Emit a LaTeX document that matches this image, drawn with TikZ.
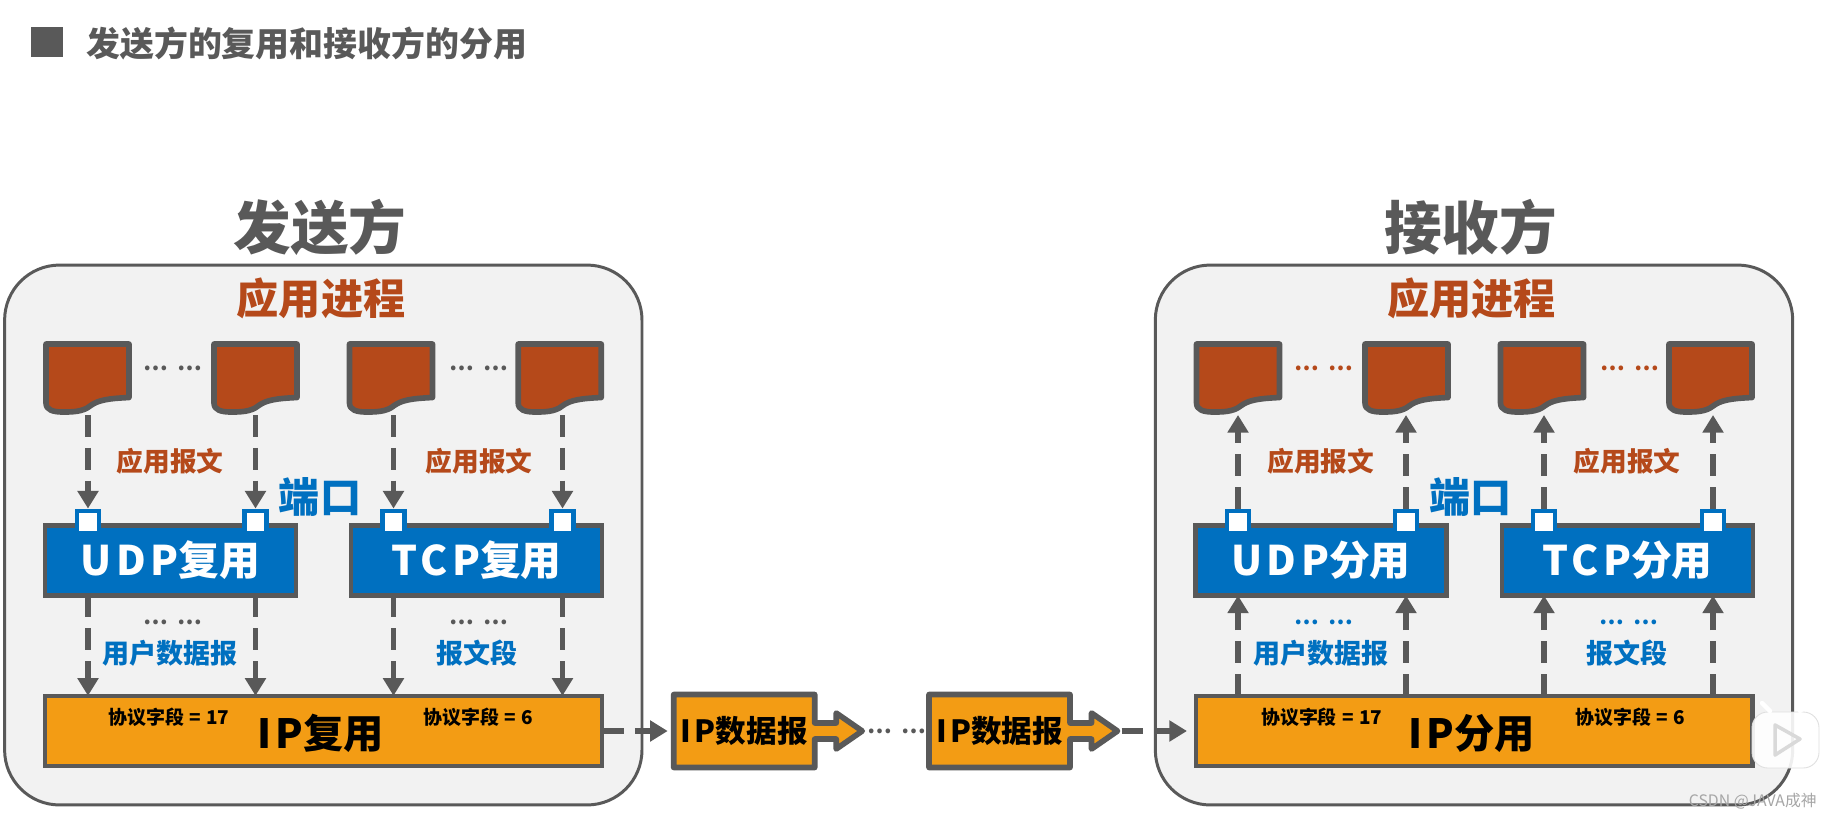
\documentclass[tikz,border=0pt]{standalone}
\usepackage{fontspec}
\setmainfont{Noto Sans CJK SC}
\newfontfamily\spc{Noto Sans CJK SC}[LetterSpace=11]
\usetikzlibrary{calc,arrows.meta}

\definecolor{linegray}{HTML}{595959}
\definecolor{panelbg}{HTML}{F2F2F2}
\definecolor{appred}{HTML}{B5491A}
\definecolor{netblue}{HTML}{0070C0}
\definecolor{ipgold}{HTML}{F39C14}

\tikzset{
  panel/.style={draw=linegray,line width=1.7pt,fill=panelbg,rounded corners=1.1cm,
    minimum width=12.75cm,minimum height=10.8cm,inner sep=0pt,outer sep=0pt},
  docbox/.style={minimum width=1.78cm,minimum height=1.48cm,inner sep=0pt,outer sep=0pt},
  docline/.style={draw=linegray,line width=3.2pt,fill=appred,line join=round},
  boxnet/.style={draw=linegray,line width=2.5pt,fill=netblue,text=white,
    minimum width=5.02cm,minimum height=1.4cm,inner sep=0pt,outer sep=0pt,
    font=\bfseries\fontsize{23.2}{23}\selectfont},
  boxip/.style={draw=linegray,line width=2.5pt,fill=ipgold,
    minimum width=11.14cm,minimum height=1.41cm,inner sep=0pt,outer sep=0pt},
  port/.style={draw=netblue,line width=2.8pt,fill=white,
    minimum width=0.44cm,minimum height=0.44cm,inner sep=0pt,outer sep=1.4pt},
  flow/.style={draw=linegray,line width=3.2pt,dash pattern=on 12.5pt off 6.2pt,
    -{Triangle[length=10pt,width=11.5pt,fill=linegray]}},
  heading/.style={text=linegray,font=\bfseries\fontsize{32.8}{33}\selectfont},
  procname/.style={text=appred,font=\bfseries\fontsize{24}{24}\selectfont},
  portname/.style={text=netblue,font=\bfseries\fontsize{23.4}{23}\selectfont},
  appmsg/.style={text=appred,font=\bfseries\fontsize{15.2}{15}\selectfont},
  netmsg/.style={text=netblue,font=\bfseries\fontsize{15.4}{15}\selectfont},
  protofield/.style={font=\bfseries\fontsize{10.8}{11}\selectfont},
  ipname/.style={font=\bfseries\fontsize{22.9}{23}\selectfont},
  pktname/.style={font=\bfseries\fontsize{17.4}{18}\selectfont},
  dotsmark/.style={font=\bfseries\fontsize{12.5}{12}\selectfont},
}

% name, position
\newcommand{\docshape}[2]{
  \node[docbox] (#1) at (#2) {};
  \draw[docline,shift={(#1.north west)}] (3,3) -- (86,3) -- (86,56.5)
    .. controls (65,57.5) and (55,59) .. (47,65)
    .. controls (40,71) and (28,71) .. (20,71)
    .. controls (10,71) and (3,69) .. (3,62) -- cycle;
}
% name, centre of the box
\newcommand{\pktshape}[2]{
  \draw[docline,fill=ipgold,shift={(#2)}] (-70.5,-36.5) -- (70.5,-36.5) -- (70.5,-8)
    -- (92,-8) -- (92,-18) -- (118,0) -- (92,18) -- (92,8) -- (70.5,8)
    -- (70.5,36.5) -- (-70.5,36.5) -- cycle;
  \node[minimum width=2.92cm,minimum height=1.56cm,inner sep=0pt,outer sep=0pt,pktname] (#1) at (#2) {{\spc IP}数据报};
  \coordinate (#1tip) at ($(#2)+(122,0)$);
}

\begin{document}
\begin{tikzpicture}[x=0.02cm,y=-0.02cm]
  \useasboundingbox (0,0) rectangle (1831,819);

  % title
  \fill[linegray] (30.6,27) rectangle (63,57);
  \node[text=linegray,font=\bfseries\fontsize{19.3}{19}\selectfont,anchor=west,inner sep=0pt] (title) at (86,43.5) {发送方的复用和接收方的分用};

  % panels
  \node[panel] (sendpanel) at (323.3,535) {};
  \node[panel] (recvpanel) at (1474,535) {};
  \node[heading] (sendname) at (320,227) {发送方};
  \node[heading] (recvname) at (1470.6,227) {接收方};
  \node[procname] (sendproc) at (321,298) {应用进程};
  \node[procname] (recvproc) at (1471.5,298) {应用进程};

  % sender
  \docshape{sa}{87.5,378}
  \docshape{sb}{255.5,378}
  \docshape{sc}{391,378}
  \docshape{sd}{559.7,378}
  \node[dotsmark,text=linegray] (sdotsa) at (173,368) {⋯\hspace{5pt}⋯};
  \node[dotsmark,text=linegray] (sdotsb) at (479,368) {⋯\hspace{5pt}⋯};

  \node[boxnet] (sudp) at (170.5,560.5) {{\spc UDP}复用};
  \node[boxnet] (stcp) at (476.5,560.5) {{\spc TCP}复用};
  \node[boxip] (sip) at (323.5,731) {};
  \node[port] (spa) at (88,522) {};
  \node[port] (spb) at (255.5,522) {};
  \node[port] (spc) at (393.5,522) {};
  \node[port] (spd) at (562.5,522) {};

  \draw[flow] (spa.north |- sa.south) -- (spa.north);
  \draw[flow] (spb.north |- sb.south) -- (spb.north);
  \draw[flow] (spc.north |- sc.south) -- (spc.north);
  \draw[flow] (spd.north |- sd.south) -- (spd.north);
  \draw[flow] (spa.north |- sudp.south) -- (spa.north |- sip.north);
  \draw[flow] (spb.north |- sudp.south) -- (spb.north |- sip.north);
  \draw[flow] (spc.north |- stcp.south) -- (spc.north |- sip.north);
  \draw[flow] (spd.north |- stcp.south) -- (spd.north |- sip.north);

  \node[appmsg] (smsga) at (170,461) {应用报文};
  \node[appmsg] (smsgb) at (479,461) {应用报文};
  \node[portname] (sportname) at (320,497) {端口};
  \node[dotsmark,text=linegray] (sdotsc) at (173,622) {⋯\hspace{5pt}⋯};
  \node[dotsmark,text=linegray] (sdotsd) at (479,622) {⋯\hspace{5pt}⋯};
  \node[netmsg] (sudpmsg) at (170,653) {用户数据报};
  \node[netmsg] (stcpmsg) at (477,653) {报文段};
  \node[protofield] (sfielda) at (169,717) {协议字段\hspace{3pt}=\hspace{3pt}17};
  \node[protofield] (sfieldb) at (478,717) {协议字段\hspace{3pt}=\hspace{3pt}6};
  \node[ipname] (sipname) at (320.5,733) {{\spc IP}复用};

  % receiver
  \docshape{ra}{1238,378}
  \docshape{rb}{1406.5,378}
  \docshape{rc}{1542,378}
  \docshape{rd}{1710.5,378}
  \node[dotsmark,text=appred] (rdotsa) at (1324,368) {⋯\hspace{5pt}⋯};
  \node[dotsmark,text=appred] (rdotsb) at (1629.7,368) {⋯\hspace{5pt}⋯};

  \node[boxnet] (rudp) at (1320.9,560.5) {{\spc UDP}分用};
  \node[boxnet] (rtcp) at (1627.5,560.5) {{\spc TCP}分用};
  \node[boxip] (rip) at (1474.2,731) {};
  \node[port] (rpa) at (1238,522) {};
  \node[port] (rpb) at (1406,522) {};
  \node[port] (rpc) at (1544,522) {};
  \node[port] (rpd) at (1713,522) {};

  \draw[flow] (rpa.north) -- (rpa.north |- ra.south);
  \draw[flow] (rpb.north) -- (rpb.north |- rb.south);
  \draw[flow] (rpc.north) -- (rpc.north |- rc.south);
  \draw[flow] (rpd.north) -- (rpd.north |- rd.south);
  \draw[flow] (rpa.north |- rip.north) -- (rpa.north |- rudp.south);
  \draw[flow] (rpb.north |- rip.north) -- (rpb.north |- rudp.south);
  \draw[flow] (rpc.north |- rip.north) -- (rpc.north |- rtcp.south);
  \draw[flow] (rpd.north |- rip.north) -- (rpd.north |- rtcp.south);

  \node[appmsg] (rmsga) at (1320.7,461) {应用报文};
  \node[appmsg] (rmsgb) at (1627,461) {应用报文};
  \node[portname] (rportname) at (1470.6,497) {端口};
  \node[dotsmark,text=netblue] (rdotsc) at (1324,622) {⋯\hspace{5pt}⋯};
  \node[dotsmark,text=netblue] (rdotsd) at (1629,622) {⋯\hspace{5pt}⋯};
  \node[netmsg] (rudpmsg) at (1321,653) {用户数据报};
  \node[netmsg] (rtcpmsg) at (1627,653) {报文段};
  \node[protofield] (rfielda) at (1321.6,717) {协议字段\hspace{3pt}=\hspace{3pt}17};
  \node[protofield] (rfieldb) at (1630,717) {协议字段\hspace{3pt}=\hspace{3pt}6};
  \node[ipname] (ripname) at (1471.5,733) {{\spc IP}分用};

  % packets between the panels
  \pktshape{pkta}{744.2,731}
  \pktshape{pktb}{999.5,731}
  \node[dotsmark,text=linegray] (pktdots) at (897,731) {⋯\hspace{5pt}⋯};
  \draw[flow,shorten >=2pt] (sip.east) -- (pkta.west);
  \draw[flow,shorten >=5pt] (pktbtip) -- (rip.west);

  % watermark
  \filldraw[draw=gray!25,fill=white,fill opacity=0.9,line width=0.5pt,rounded corners=9pt] (1752,712) rectangle (1819,768);
  \draw[white,line width=2.5pt,line cap=round] (1770,711) -- (1762,703);
  \draw[white,line width=2.5pt,line cap=round] (1800,711) -- (1808,703);
  \draw[gray!30,line width=2pt,line join=round] (1775,725) -- (1800,739) -- (1775,755) -- cycle;
  \node[text=gray!70,font=\fontsize{9}{9}\selectfont,anchor=east,inner sep=0pt] (mark) at (1817,801) {CSDN @JAVA成神};
\end{tikzpicture}
\end{document}
